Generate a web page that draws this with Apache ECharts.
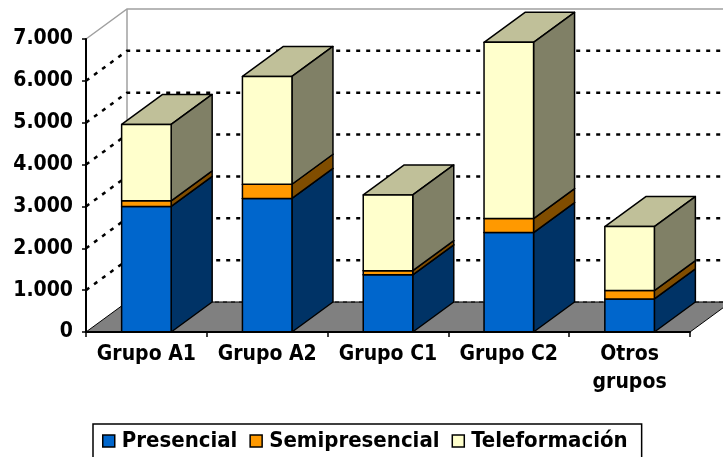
<!DOCTYPE html>
<html>
<head>
<meta charset="utf-8">
<script src="https://cdn.jsdelivr.net/npm/echarts@6/dist/echarts.min.js"></script>
<style>
  html, body { margin: 0; padding: 0; background: #fff; }
  #chart { width: 723px; height: 457px; }
</style>
</head>
<body>
<div id="chart"></div>
<script>
// datos
const categories = ["Grupo A1", "Grupo A2", "Grupo C1", "Grupo C2", "Otros\ngrupos"];
const presencial = [3000, 3190, 1365, 2375, 790];
const semipresencial = [135, 340, 100, 335, 200];
const teleformacion = [1825, 2575, 1810, 4210, 1530];
const yTicks = [0, 1000, 2000, 3000, 4000, 5000, 6000, 7000];

// colores: frente, lateral, tapa
const colors = [
  ["#0066CC", "#003366", "#3385D6"],
  ["#FF9900", "#804D00", "#FFB84D"],
  ["#FFFFCC", "#808066", "#C0C099"],
];
const seriesNames = ["Presencial", "Semipresencial", "Teleformación"];
const seriesValues = [presencial, semipresencial, teleformacion];

// desplazamiento de profundidad (efecto 3D)
const DX = 41;
const DY = -30;
const FONT = "'DejaVu Sans Condensed', 'DejaVu Sans'";

const chart = echarts.init(document.getElementById("chart"));

function fmt(v) {
  return String(v).replace(/\B(?=(\d{3})+(?!\d))/g, ".");
}

// paredes, suelo y lineas de division
function renderWalls(params, api) {
  const v = api.value(0);
  const band = api.size([1, 0])[0];
  const pl = api.coord([0, v]);
  const pr = api.coord([categories.length - 1, v]);
  const xl = pl[0] - band / 2;
  const xr = pr[0] + band / 2;
  const y = pl[1];
  const children = [];
  if (v === 0) {
    const top = api.coord([0, yTicks[yTicks.length - 1]])[1];
    children.push({
      type: "polygon",
      shape: { points: [[xl, y], [xr, y], [xr + DX, y + DY], [xl + DX, y + DY]] },
      style: { fill: "#808080", stroke: "#000", lineWidth: 1 },
    });
    children.push({
      type: "line",
      shape: { x1: xl + DX, y1: y + DY, x2: xr + DX, y2: y + DY },
      style: { stroke: "#000", lineWidth: 1, lineDash: [4, 4] },
    });
    children.push({
      type: "line",
      shape: { x1: xl + DX, y1: y + DY, x2: xl + DX, y2: top + DY },
      style: { stroke: "#a0a0a0", lineWidth: 1.5 },
    });
  } else if (v === yTicks[yTicks.length - 1]) {
    children.push({
      type: "polyline",
      shape: { points: [[xl, y], [xl + DX, y + DY], [xr + DX, y + DY]] },
      style: { stroke: "#a0a0a0", lineWidth: 1.5, fill: null },
    });
  } else {
    children.push({
      type: "polyline",
      shape: { points: [[xl, y], [xl + DX, y + DY], [xr + DX, y + DY]] },
      style: { stroke: "#000", lineWidth: 2.5, lineDash: [4, 6], fill: null },
    });
  }
  return { type: "group", children: children };
}

// columnas apiladas en 3D
function makeRenderBar(c) {
  return function (params, api) {
    const ci = api.value(0);
    const lo = api.coord([ci, api.value(1)]);
    const hi = api.coord([ci, api.value(2)]);
    const bw = api.size([1, 0])[0] * 0.41;
    const x0 = lo[0] - bw / 2;
    const x1 = lo[0] + bw / 2;
    const yb = lo[1];
    const yt = hi[1];
    const line = { stroke: "#000", lineWidth: 1.5, lineJoin: "round" };
    return {
      type: "group",
      children: [
        {
          type: "polygon",
          shape: { points: [[x0, yt], [x1, yt], [x1 + DX, yt + DY], [x0 + DX, yt + DY]] },
          style: Object.assign({ fill: c[2] }, line),
        },
        {
          type: "polygon",
          shape: { points: [[x1, yb], [x1 + DX, yb + DY], [x1 + DX, yt + DY], [x1, yt]] },
          style: Object.assign({ fill: c[1] }, line),
        },
        {
          type: "rect",
          shape: { x: x0, y: yt, width: bw, height: yb - yt },
          style: Object.assign({ fill: c[0] }, line),
        },
      ],
    };
  };
}

// acumulados para apilar
const barSeries = [];
const base = categories.map(() => 0);
seriesValues.forEach((vals, si) => {
  const data = vals.map((v, i) => {
    const item = [i, base[i], base[i] + v];
    base[i] += v;
    return item;
  });
  barSeries.push({
    name: seriesNames[si],
    type: "custom",
    renderItem: makeRenderBar(colors[si]),
    itemStyle: { color: colors[si][0] },
    encode: { x: 0, y: 2 },
    clip: false,
    data: data,
  });
});

const option = {
  animation: false,
  grid: { left: 86, right: 33, top: 39, bottom: 125 },
  xAxis: {
    type: "category",
    data: categories,
    z: 5,
    axisLine: { lineStyle: { color: "#000", width: 2 } },
    axisTick: { show: true, length: 5, lineStyle: { color: "#000", width: 1.5 } },
    axisLabel: {
      color: "#000",
      fontFamily: FONT,
      fontWeight: "bold",
      fontSize: 21,
      lineHeight: 28,
      margin: 9,
      interval: 0,
    },
    splitLine: { show: false },
  },
  yAxis: {
    type: "value",
    min: 0,
    max: 7000,
    interval: 1000,
    z: 5,
    axisLine: { show: true, lineStyle: { color: "#000", width: 2 } },
    axisTick: { show: true, length: 4, lineStyle: { color: "#000", width: 1.5 } },
    axisLabel: {
      color: "#000",
      fontFamily: FONT,
      fontWeight: "bold",
      fontSize: 21,
      margin: 13,
      formatter: fmt,
    },
    splitLine: { show: false },
  },
  legend: {
    data: seriesNames,
    left: 93,
    top: 424,
    padding: [6, 14, 6, 9],
    itemGap: 12,
    itemWidth: 12,
    itemHeight: 12,
    icon: "rect",
    borderColor: "#000",
    borderWidth: 1.5,
    itemStyle: { borderColor: "#000", borderWidth: 1.5 },
    textStyle: { color: "#000", fontFamily: FONT, fontWeight: "bold", fontSize: 22, padding: [0, 0, 0, 2] },
  },
  series: [
    {
      name: "walls",
      type: "custom",
      renderItem: renderWalls,
      encode: { x: -1, y: 0 },
      clip: false,
      silent: true,
      data: yTicks.map((v) => [v]),
    },
  ].concat(barSeries),
};

chart.setOption(option);
</script>
</body>
</html>
